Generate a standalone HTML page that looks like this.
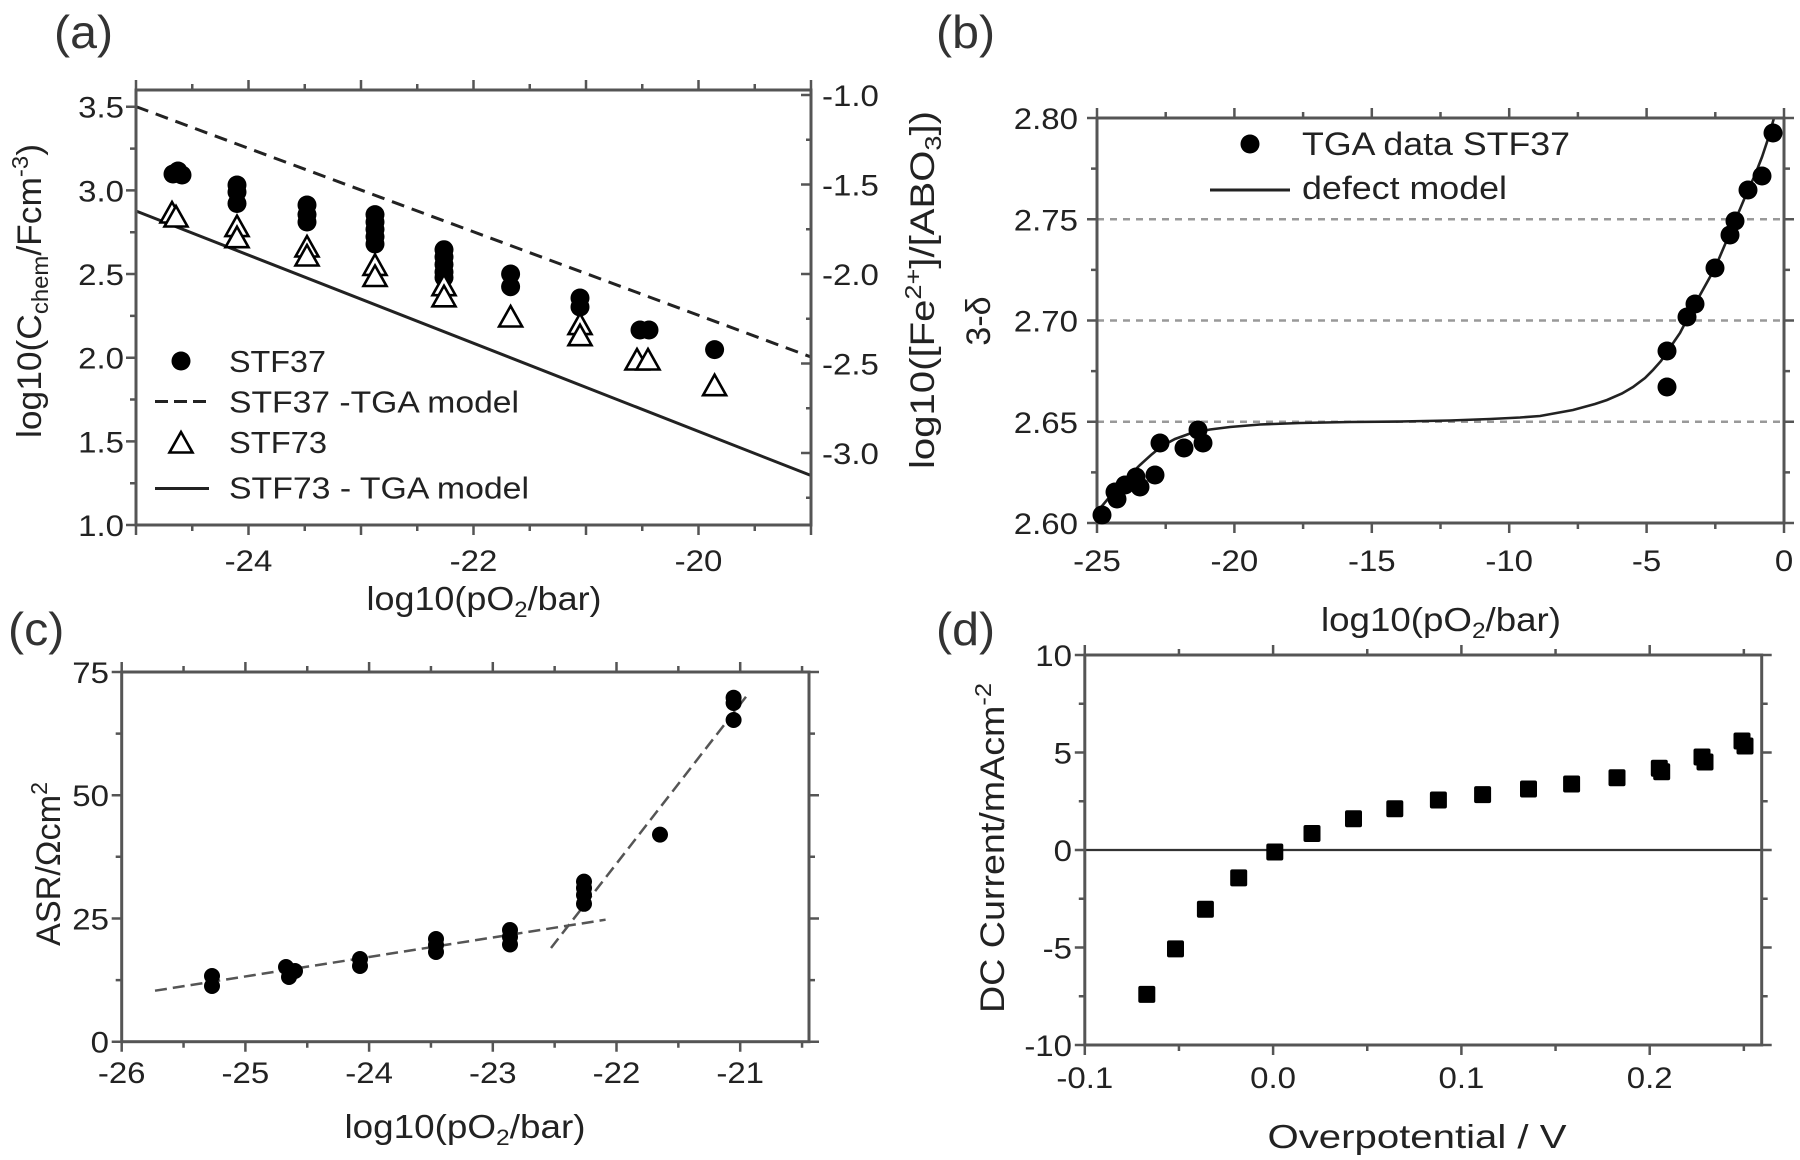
<!DOCTYPE html>
<html><head><meta charset="utf-8">
<style>
html,body{margin:0;padding:0;background:#fff;}
svg{display:block;}
.ax{fill:none;stroke:#555;stroke-width:3;}
.tk{fill:none;stroke:#555;stroke-width:2.5;}
text{font-family:"Liberation Sans",Arial,sans-serif;fill:#222;}
.t{font-size:30px;}
.lb{font-size:33px;}
.lg{font-size:31px;}
.pl{font-size:46px;fill:#333;}
</style></head>
<body>
<svg width="1800" height="1160" viewBox="0 0 1800 1160" xmlns="http://www.w3.org/2000/svg">
<defs>
<circle id="ca" r="9.5" fill="#000"/>
<circle id="cc" r="8" fill="#000"/>
<path id="tr" d="M0,-12L11.5,8.5L-11.5,8.5Z" fill="#fff" stroke="#000" stroke-width="2.6"/>
<rect id="sq" x="-8.5" y="-8.5" width="17" height="17" rx="2" fill="#000"/>
</defs>
<rect width="1800" height="1160" fill="#fff"/>

<!-- ================= PANEL A ================= -->
<text class="pl" transform="translate(54,48) scale(1.05,1)">(a)</text>
<path d="M136,106.6L811,357" stroke="#222" stroke-width="3" stroke-dasharray="13 8" fill="none"/>
<path d="M136,211L811,475.5" stroke="#222" stroke-width="3" fill="none"/>
<rect class="ax" x="136" y="90" width="675" height="435"/>
<path class="tk" d="M136,525v10M248.5,525v10M361,525v10M473.5,525v10M586,525v10M698.5,525v10M811,525v10
M192.25,525v6M304.75,525v6M417.25,525v6M529.75,525v6M642.25,525v6M754.75,525v6
M136,90v-10M248.5,90v-10M361,90v-10M473.5,90v-10M586,90v-10M698.5,90v-10M811,90v-10
M192.25,90v-6M304.75,90v-6M417.25,90v-6M529.75,90v-6M642.25,90v-6M754.75,90v-6
M136,525h-10M136,441.35h-10M136,357.7h-10M136,274.05h-10M136,190.4h-10M136,106.75h-10
M136,483.2h-6M136,399.5h-6M136,315.9h-6M136,232.2h-6M136,148.6h-6
M811,95h-10M811,184.5h-10M811,274h-10M811,363.5h-10M811,453h-10
M811,139.75h-5M811,229.25h-5M811,318.75h-5M811,408.25h-5M811,497.75h-5"/>
<text class="t" text-anchor="end" transform="translate(124,536) scale(1.1,1)">1.0</text>
<text class="t" text-anchor="end" transform="translate(124,452.3) scale(1.1,1)">1.5</text>
<text class="t" text-anchor="end" transform="translate(124,368.7) scale(1.1,1)">2.0</text>
<text class="t" text-anchor="end" transform="translate(124,285) scale(1.1,1)">2.5</text>
<text class="t" text-anchor="end" transform="translate(124,201.4) scale(1.1,1)">3.0</text>
<text class="t" text-anchor="end" transform="translate(124,117.7) scale(1.1,1)">3.5</text>
<text class="t" transform="translate(822,106) scale(1.1,1)">-1.0</text>
<text class="t" transform="translate(822,195.5) scale(1.1,1)">-1.5</text>
<text class="t" transform="translate(822,285) scale(1.1,1)">-2.0</text>
<text class="t" transform="translate(822,374.5) scale(1.1,1)">-2.5</text>
<text class="t" transform="translate(822,464) scale(1.1,1)">-3.0</text>
<text class="t" text-anchor="middle" transform="translate(248.5,571) scale(1.1,1)">-24</text>
<text class="t" text-anchor="middle" transform="translate(473.5,571) scale(1.1,1)">-22</text>
<text class="t" text-anchor="middle" transform="translate(698.5,571) scale(1.1,1)">-20</text>
<text class="lb" x="484" y="610" text-anchor="middle" textLength="235" lengthAdjust="spacingAndGlyphs">log10(pO<tspan font-size="22" dy="7">2</tspan><tspan dy="-7">/bar)</tspan></text>
<text font-size="34" text-anchor="middle" transform="translate(41,291) rotate(-90)" textLength="294" lengthAdjust="spacingAndGlyphs">log10(C<tspan font-size="23" dy="7">chem</tspan><tspan dy="-7">/Fcm</tspan><tspan font-size="23" dy="-13">-3</tspan><tspan dy="13">)</tspan></text>
<text font-size="34" text-anchor="middle" transform="translate(934,290) rotate(-90)" textLength="358" lengthAdjust="spacingAndGlyphs">log10([Fe<tspan font-size="23" dy="-13">2+</tspan><tspan dy="13">]/[ABO</tspan><tspan font-size="23" dy="7">3</tspan><tspan dy="-7">])</tspan></text>
<use href="#ca" x="173" y="174"/><use href="#ca" x="178" y="171"/><use href="#ca" x="182" y="175"/>
<use href="#ca" x="237" y="185"/><use href="#ca" x="237" y="192"/><use href="#ca" x="237" y="203.5"/>
<use href="#ca" x="307" y="205"/><use href="#ca" x="307" y="214.6"/><use href="#ca" x="307" y="222"/>
<use href="#ca" x="375" y="214.6"/><use href="#ca" x="375" y="222"/><use href="#ca" x="375" y="229.4"/><use href="#ca" x="375" y="236.8"/><use href="#ca" x="375" y="244"/>
<use href="#ca" x="444" y="249.7"/><use href="#ca" x="444" y="257"/><use href="#ca" x="444" y="264.5"/><use href="#ca" x="444" y="272"/><use href="#ca" x="444" y="277.5"/>
<use href="#ca" x="510.6" y="274"/><use href="#ca" x="510.6" y="286.7"/>
<use href="#ca" x="580" y="298"/><use href="#ca" x="580" y="307"/>
<use href="#ca" x="640" y="330"/><use href="#ca" x="649" y="330"/>
<use href="#ca" x="714.6" y="349.6"/>
<use href="#tr" x="172" y="214"/><use href="#tr" x="176" y="218"/>
<use href="#tr" x="237" y="227.6"/><use href="#tr" x="237" y="238.7"/>
<use href="#tr" x="307" y="248"/><use href="#tr" x="307" y="257"/>
<use href="#tr" x="375" y="266.4"/><use href="#tr" x="375" y="277.5"/>
<use href="#tr" x="444" y="286.7"/><use href="#tr" x="444" y="297.8"/>
<use href="#tr" x="510.6" y="318"/>
<use href="#tr" x="580" y="325.6"/><use href="#tr" x="580" y="336.7"/>
<use href="#tr" x="637" y="361"/><use href="#tr" x="648" y="361"/>
<use href="#tr" x="714.6" y="386.7"/>
<use href="#ca" x="181" y="361"/>
<text class="lg" x="229" y="372" textLength="97" lengthAdjust="spacingAndGlyphs">STF37</text>
<path d="M155,401.5H209" stroke="#222" stroke-width="3" stroke-dasharray="13 6"/>
<text class="lg" x="229" y="412.5" textLength="290" lengthAdjust="spacingAndGlyphs">STF37 -TGA model</text>
<use href="#tr" x="181" y="444"/>
<text class="lg" x="229" y="453" textLength="98" lengthAdjust="spacingAndGlyphs">STF73</text>
<path d="M155,488.5H209" stroke="#222" stroke-width="3"/>
<text class="lg" x="229" y="498.5" textLength="300" lengthAdjust="spacingAndGlyphs">STF73 - TGA model</text>

<!-- ================= PANEL B ================= -->
<text class="pl" transform="translate(936,48) scale(1.05,1)">(b)</text>
<path d="M1097,421.75H1784M1097,320.5H1784M1097,219.25H1784" stroke="#999" stroke-width="2.5" stroke-dasharray="7 6" fill="none"/>
<polyline fill="none" stroke="#222" stroke-width="2.6" points="1097,512 1107,500 1117,488 1128,477 1140,465 1151,455 1162,446 1175,439 1190,433.5 1210,429.5 1230,427 1260,424.5 1300,423 1350,422 1400,421.5 1450,420.5 1490,419 1520,417.5 1540,416 1573,410 1595,404 1607,400 1622,393.5 1633,387 1645,378 1653,370 1661,361 1667,352 1680,333 1695,304 1715,268 1735,221 1748,190 1755,175 1762,157 1768,139 1774,118"/>
<rect class="ax" x="1097" y="118" width="687" height="405"/>
<path class="tk" d="M1097,523v10M1234.4,523v10M1371.8,523v10M1509.2,523v10M1646.6,523v10M1784,523v10
M1165.7,523v6M1303.1,523v6M1440.5,523v6M1577.9,523v6M1715.3,523v6
M1097,118v-10M1234.4,118v-10M1371.8,118v-10M1509.2,118v-10M1646.6,118v-10M1784,118v-10
M1165.7,118v-6M1303.1,118v-6M1440.5,118v-6M1577.9,118v-6M1715.3,118v-6
M1097,523h-10M1097,421.75h-10M1097,320.5h-10M1097,219.25h-10M1097,118h-10
M1097,472.4h-6M1097,371.1h-6M1097,269.9h-6M1097,168.6h-6
M1784,523h10M1784,421.75h10M1784,320.5h10M1784,219.25h10M1784,118h10
M1784,472.4h6M1784,371.1h6M1784,269.9h6M1784,168.6h6"/>
<text class="t" text-anchor="end" transform="translate(1078,534) scale(1.1,1)">2.60</text>
<text class="t" text-anchor="end" transform="translate(1078,432.75) scale(1.1,1)">2.65</text>
<text class="t" text-anchor="end" transform="translate(1078,331.5) scale(1.1,1)">2.70</text>
<text class="t" text-anchor="end" transform="translate(1078,230.25) scale(1.1,1)">2.75</text>
<text class="t" text-anchor="end" transform="translate(1078,129) scale(1.1,1)">2.80</text>
<text class="t" text-anchor="middle" transform="translate(1097,571) scale(1.1,1)">-25</text>
<text class="t" text-anchor="middle" transform="translate(1234.4,571) scale(1.1,1)">-20</text>
<text class="t" text-anchor="middle" transform="translate(1371.8,571) scale(1.1,1)">-15</text>
<text class="t" text-anchor="middle" transform="translate(1509.2,571) scale(1.1,1)">-10</text>
<text class="t" text-anchor="middle" transform="translate(1646.6,571) scale(1.1,1)">-5</text>
<text class="t" text-anchor="middle" transform="translate(1784,571) scale(1.1,1)">0</text>
<text class="lb" x="1441" y="631" text-anchor="middle" textLength="240" lengthAdjust="spacingAndGlyphs">log10(pO<tspan font-size="22" dy="7">2</tspan><tspan dy="-7">/bar)</tspan></text>
<text font-size="34" text-anchor="middle" transform="translate(990,321) rotate(-90)">3-δ</text>
<use href="#ca" x="1102" y="515"/><use href="#ca" x="1115" y="492"/><use href="#ca" x="1117" y="499"/>
<use href="#ca" x="1125" y="485"/><use href="#ca" x="1136" y="477"/><use href="#ca" x="1140" y="487"/>
<use href="#ca" x="1155" y="475"/><use href="#ca" x="1160" y="443"/><use href="#ca" x="1184" y="448"/>
<use href="#ca" x="1198" y="430"/><use href="#ca" x="1203" y="443"/>
<use href="#ca" x="1667" y="351"/><use href="#ca" x="1667" y="387"/><use href="#ca" x="1687" y="317"/>
<use href="#ca" x="1695" y="304"/><use href="#ca" x="1715" y="268"/><use href="#ca" x="1730" y="235"/>
<use href="#ca" x="1735" y="221"/><use href="#ca" x="1748" y="190"/><use href="#ca" x="1762" y="176"/>
<use href="#ca" x="1773" y="133"/>
<use href="#ca" x="1250" y="144"/>
<text font-size="32" x="1302" y="155" textLength="268" lengthAdjust="spacingAndGlyphs">TGA data STF37</text>
<path d="M1210,190H1290" stroke="#222" stroke-width="3"/>
<text font-size="32" x="1302" y="199" textLength="205" lengthAdjust="spacingAndGlyphs">defect model</text>

<!-- ================= PANEL C ================= -->
<text class="pl" transform="translate(8,645) scale(1.05,1)">(c)</text>
<path d="M155,990.7L605.6,919.7M551,948L749,692.9" stroke="#555" stroke-width="2.5" stroke-dasharray="12 6" fill="none"/>
<rect class="ax" x="121.7" y="672" width="687.3" height="369.7"/>
<path class="tk" d="M121.7,1041.7v10M245.4,1041.7v10M369.1,1041.7v10M492.8,1041.7v10M616.5,1041.7v10M740.2,1041.7v10
M183.55,1041.7v6M307.25,1041.7v6M430.95,1041.7v6M554.65,1041.7v6M678.35,1041.7v6M802.05,1041.7v6
M121.7,672v-10M245.4,672v-10M369.1,672v-10M492.8,672v-10M616.5,672v-10M740.2,672v-10
M183.55,672v-6M307.25,672v-6M430.95,672v-6M554.65,672v-6M678.35,672v-6M802.05,672v-6
M121.7,1041.7h-10M121.7,918.5h-10M121.7,795.2h-10M121.7,672h-10
M121.7,980.1h-6M121.7,856.8h-6M121.7,733.6h-6
M809,1041.7h10M809,918.5h10M809,795.2h10M809,672h10
M809,980.1h6M809,856.8h6M809,733.6h6"/>
<text class="t" text-anchor="end" transform="translate(109,1052.7) scale(1.1,1)">0</text>
<text class="t" text-anchor="end" transform="translate(109,929.5) scale(1.1,1)">25</text>
<text class="t" text-anchor="end" transform="translate(109,806.2) scale(1.1,1)">50</text>
<text class="t" text-anchor="end" transform="translate(109,683) scale(1.1,1)">75</text>
<text class="t" text-anchor="middle" transform="translate(121.7,1083) scale(1.1,1)">-26</text>
<text class="t" text-anchor="middle" transform="translate(245.4,1083) scale(1.1,1)">-25</text>
<text class="t" text-anchor="middle" transform="translate(369.1,1083) scale(1.1,1)">-24</text>
<text class="t" text-anchor="middle" transform="translate(492.8,1083) scale(1.1,1)">-23</text>
<text class="t" text-anchor="middle" transform="translate(616.5,1083) scale(1.1,1)">-22</text>
<text class="t" text-anchor="middle" transform="translate(740.2,1083) scale(1.1,1)">-21</text>
<text class="lb" x="465" y="1138" text-anchor="middle" textLength="241" lengthAdjust="spacingAndGlyphs">log10(pO<tspan font-size="22" dy="7">2</tspan><tspan dy="-7">/bar)</tspan></text>
<text font-size="34" text-anchor="middle" transform="translate(60,864) rotate(-90)" textLength="164" lengthAdjust="spacingAndGlyphs">ASR/Ωcm<tspan font-size="23" dy="-13">2</tspan></text>
<use href="#cc" x="212" y="976"/><use href="#cc" x="212" y="986"/>
<use href="#cc" x="286" y="967"/><use href="#cc" x="289" y="977"/><use href="#cc" x="295" y="971"/>
<use href="#cc" x="360" y="959"/><use href="#cc" x="360" y="966"/>
<use href="#cc" x="436" y="939"/><use href="#cc" x="436" y="945"/><use href="#cc" x="436" y="952"/>
<use href="#cc" x="510" y="930"/><use href="#cc" x="510" y="937"/><use href="#cc" x="510" y="944.5"/>
<use href="#cc" x="584" y="881.6"/><use href="#cc" x="584" y="888"/><use href="#cc" x="584" y="895"/><use href="#cc" x="584" y="903.8"/>
<use href="#cc" x="660" y="834.6"/>
<use href="#cc" x="733.6" y="697.7"/><use href="#cc" x="733.6" y="703"/><use href="#cc" x="733.6" y="720"/>

<!-- ================= PANEL D ================= -->
<text class="pl" transform="translate(936,645) scale(1.05,1)">(d)</text>
<path d="M1084.8,850H1761.7" stroke="#333" stroke-width="2.2"/>
<rect class="ax" x="1084.8" y="655" width="676.9" height="390"/>
<path class="tk" d="M1084.8,1045v10M1273.1,1045v10M1461.4,1045v10M1649.7,1045v10
M1178.95,1045v6M1367.25,1045v6M1555.55,1045v6M1743.85,1045v6
M1084.8,655v-10M1273.1,655v-10M1461.4,655v-10M1649.7,655v-10
M1178.95,655v-6M1367.25,655v-6M1555.55,655v-6M1743.85,655v-6
M1084.8,655h-10M1084.8,752.5h-10M1084.8,850h-10M1084.8,947.5h-10M1084.8,1045h-10
M1084.8,703.75h-6M1084.8,801.25h-6M1084.8,898.75h-6M1084.8,996.25h-6
M1761.7,655h10M1761.7,752.5h10M1761.7,850h10M1761.7,947.5h10M1761.7,1045h10
M1761.7,703.75h6M1761.7,801.25h6M1761.7,898.75h6M1761.7,996.25h6"/>
<text class="t" text-anchor="end" transform="translate(1072,666) scale(1.1,1)">10</text>
<text class="t" text-anchor="end" transform="translate(1072,763.5) scale(1.1,1)">5</text>
<text class="t" text-anchor="end" transform="translate(1072,861) scale(1.1,1)">0</text>
<text class="t" text-anchor="end" transform="translate(1072,958.5) scale(1.1,1)">-5</text>
<text class="t" text-anchor="end" transform="translate(1072,1056) scale(1.1,1)">-10</text>
<text class="t" text-anchor="middle" transform="translate(1084.8,1088) scale(1.1,1)">-0.1</text>
<text class="t" text-anchor="middle" transform="translate(1273.1,1088) scale(1.1,1)">0.0</text>
<text class="t" text-anchor="middle" transform="translate(1461.4,1088) scale(1.1,1)">0.1</text>
<text class="t" text-anchor="middle" transform="translate(1649.7,1088) scale(1.1,1)">0.2</text>
<text class="lb" x="1417" y="1148" text-anchor="middle" textLength="299" lengthAdjust="spacingAndGlyphs">Overpotential / V</text>
<text font-size="34" text-anchor="middle" transform="translate(1004,848) rotate(-90)" textLength="330" lengthAdjust="spacingAndGlyphs">DC Current/mAcm<tspan font-size="23" dy="-13">-2</tspan></text>
<use href="#sq" x="1146.8" y="994.4"/><use href="#sq" x="1175.5" y="948.9"/><use href="#sq" x="1205.4" y="909.3"/>
<use href="#sq" x="1238.7" y="877.9"/><use href="#sq" x="1274.8" y="852"/><use href="#sq" x="1312" y="833.5"/>
<use href="#sq" x="1353.5" y="818.7"/><use href="#sq" x="1394.8" y="808.7"/><use href="#sq" x="1438.4" y="800"/>
<use href="#sq" x="1482.6" y="794.6"/><use href="#sq" x="1528.5" y="789"/><use href="#sq" x="1571.6" y="784"/>
<use href="#sq" x="1617" y="777.7"/><use href="#sq" x="1659.3" y="768.3"/><use href="#sq" x="1661.7" y="771.7"/>
<use href="#sq" x="1702" y="757"/><use href="#sq" x="1705" y="762"/>
<use href="#sq" x="1742" y="741"/><use href="#sq" x="1745" y="746"/>
</svg>
</body></html>
